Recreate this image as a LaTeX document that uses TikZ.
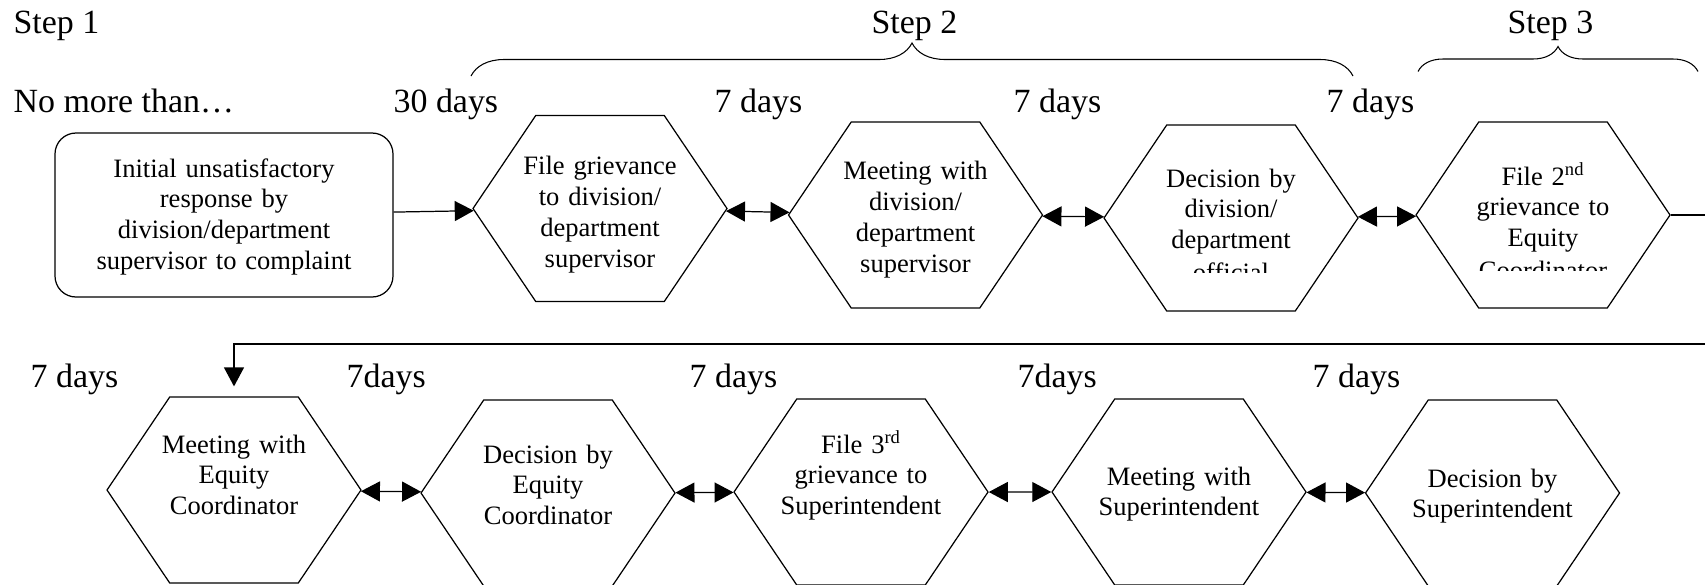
\documentclass[tikz,border=0pt]{standalone}
\usepackage{fontspec}
\setmainfont{Liberation Serif}
\usepackage{tikz}
\usetikzlibrary{arrows.meta, shapes.symbols, decorations.pathreplacing}
\newcommand{\hexfont}{\fontsize{15.1}{17.6}\selectfont}
\newcommand{\dayfont}{\fontsize{19.3}{23}\selectfont}

\begin{document}
\begin{tikzpicture}[
  >={Triangle[length=0.38cm, width=0.40cm]}, line width=0.7pt,
  hexbox/.style={draw, shape=signal, signal to=west and east, signal pointer angle=112,
    minimum width=5.08cm, minimum height=3.72cm, inner xsep=-0.4cm, inner ysep=0pt,
    text width=3.3cm, align=center, text height=0pt, font=\hexfont},
  startbox/.style={draw, rounded corners=0.42cm, minimum width=6.76cm, minimum height=3.28cm,
    inner sep=0pt, text width=6.2cm, align=center, text height=0pt, font=\hexfont},
  daylbl/.style={anchor=base west, inner sep=0pt, font=\dayfont},
  taillbl/.style={anchor=base, inner sep=0pt, font=\hexfont},
  stepbrace/.style={decorate, decoration={brace, amplitude=#1}, line width=0.6pt}
]
\useasboundingbox (0,0) rectangle (34.1,-11.68);
\clip (0,0) rectangle (34.1,-11.68);

% ---- Row 1: step 1 and step 2 ----
\node[startbox, text depth=1.52cm] (init) at (4.48,-4.30) {Initial unsatisfactory\\response by\\division/department\\supervisor to complaint};
\node[hexbox, text depth=1.36cm] (file1) at (12.00,-4.17) {File grievance\\to division/\\department\\supervisor};
\node[hexbox, text depth=1.42cm] (meet1) at (18.31,-4.30) {Meeting with\\division/\\department\\supervisor};
\node[hexbox, text depth=1.24cm] (dec1) at (24.62,-4.36) {Decision by\\division/\\department};
\node[hexbox, text depth=1.20cm] (file2) at (30.86,-4.30) {File 2\textsuperscript{nd}\\grievance to\\Equity};
% last lines cut off by the box
\begin{scope}
  \clip (22,-5.44) rectangle (27,-5.0);
  \node[taillbl] (dec1tail) at (24.62,-5.62) {official};
\end{scope}
\begin{scope}
  \clip (28,-5.40) rectangle (33,-5.0);
  \node[taillbl] (file2tail) at (30.86,-5.59) {Coordinator};
\end{scope}

\draw[->] (init) -- (file1);
\draw[<->] (file1) -- (meet1);
\draw[<->] (meet1) -- (dec1);
\draw[<->] (dec1) -- (file2);

\node[daylbl] (step1) at (0.26,-0.66) {Step 1};
\node[daylbl] (nomore) at (0.26,-2.24) {No more than…};
\node[daylbl] (d30) at (7.86,-2.24) {30 days};
\node[daylbl] (d7a) at (14.28,-2.24) {7 days};
\node[daylbl] (d7b) at (20.26,-2.24) {7 days};
\node[daylbl] (d7c) at (26.52,-2.24) {7 days};

% braces over the steps
\coordinate (b2l) at (9.42,-1.52);
\coordinate (b2r) at (27.06,-1.52);
\draw[stepbrace=0.66cm] (b2l) -- (b2r);
\node[daylbl] (step2) at (17.42,-0.66) {Step 2};
\coordinate (b3l) at (28.36,-1.43);
\coordinate (b3r) at (33.96,-1.43);
\draw[stepbrace=0.5cm] (b3l) -- (b3r);
\node[daylbl] (step3) at (30.14,-0.66) {Step 3};

% ---- Row 2: step 3 and on ----
\node[hexbox, text depth=1.48cm] (meet2) at (4.68,-9.80) {Meeting with\\Equity\\Coordinator};
\node[hexbox, text depth=1.20cm] (dec2) at (10.96,-9.86) {Decision by\\Equity\\Coordinator};
\node[hexbox, text depth=1.56cm] (file3) at (17.22,-9.84) {File 3\textsuperscript{rd}\\grievance to\\Superintendent};
\node[hexbox, text depth=0.28cm] (meet3) at (23.58,-9.84) {Meeting with\\Superintendent};
\node[hexbox, text depth=0.24cm] (dec3) at (29.85,-9.86) {Decision by\\Superintendent};

\coordinate (wrap) at (35.0,-6.88);
\draw[->, shorten >=0.2cm] (file2.east) -| (wrap) -| (meet2.north);
\draw[<->] (meet2) -- (dec2);
\draw[<->] (dec2) -- (file3);
\draw[<->] (file3) -- (meet3);
\draw[<->] (meet3) -- (dec3);

\node[daylbl] (d7d) at (0.60,-7.74) {7 days};
\node[daylbl] (d7e) at (6.92,-7.74) {7days};
\node[daylbl] (d7f) at (13.78,-7.74) {7 days};
\node[daylbl] (d7g) at (20.34,-7.74) {7days};
\node[daylbl] (d7h) at (26.24,-7.74) {7 days};
\end{tikzpicture}
\end{document}
